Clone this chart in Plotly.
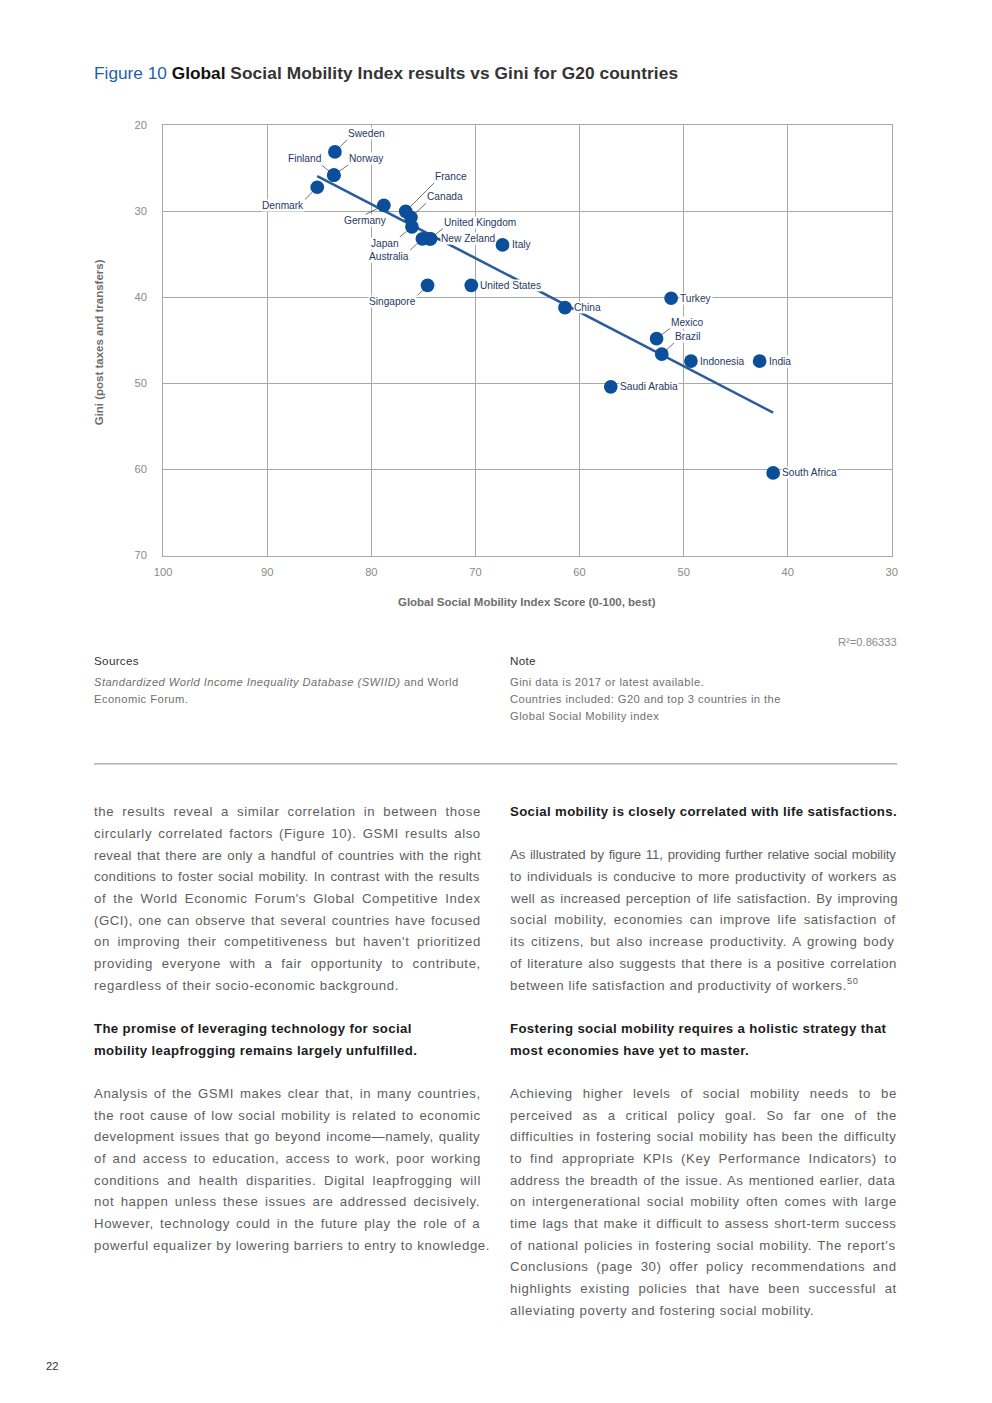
import numpy as np
import plotly.graph_objects as go

# page is 992x1403; the default HTML body has an 8px margin, so the figure is
# 16px smaller and every page coordinate is shifted by that margin.
PAGE_W, PAGE_H = 992, 1403
OFF = 8
W, H = PAGE_W - 2 * OFF, PAGE_H - 2 * OFF
FONT = "Liberation Sans, Arial, Helvetica, sans-serif"
# calibration of the photographed page (observed affine mapping)
AX_, BX_ = 9.3, 0.9843
AY_, BY_ = 4.7, 0.992
S = 1 / BX_

# ---------------- chart data ----------------
countries = ["Sweden", "Finland", "Norway", "Denmark", "Germany", "France", "Canada",
             "United Kingdom", "Japan", "Australia", "New Zeland", "Italy", "Singapore",
             "United States", "China", "Turkey", "Mexico", "Brazil", "Indonesia", "India",
             "Saudi Arabia", "South Africa"]
gsmi_score = [83.5, 83.6, 83.6, 85.2, 78.8, 76.7, 76.2,
              74.4, 76.1, 75.1, 74.3, 67.4, 74.6,
              70.4, 61.4, 51.2, 52.6, 52.1, 49.3, 42.7,
              57.0, 41.4]
gini_index = [23.1, 25.8, 25.8, 27.2, 29.3, 30.0, 30.7,
              33.2, 31.8, 33.2, 33.2, 33.9, 38.6,
              38.6, 41.2, 40.1, 44.8, 46.6, 47.4, 47.4,
              50.4, 60.4]
x_ticks = [100, 90, 80, 70, 60, 50, 40, 30]
y_ticks = [20, 30, 40, 50, 60, 70]
r2_label = "R\u00b2=0.86333"

# linear trend through the data
slope, intercept = np.polyfit(gsmi_score, gini_index, 1)
trend_x = np.array([max(gsmi_score), min(gsmi_score)])
trend_y = slope * trend_x + intercept

# ---------------- geometry (target page pixels) ----------------
PL, PR, PT, PB = 163.3, 891.7, 124.0, 554.5


def px(x):
    return ((x - AX_) / BX_ - OFF) / W


def py(y):
    return 1 - ((y - AY_) / BY_ - OFF) / H


def fs(v):
    return round(v * S, 2)


fig = go.Figure()
fig.add_trace(go.Scatter(x=trend_x, y=trend_y, mode="lines",
                         line=dict(color="#2b5c9c", width=2.6),
                         hoverinfo="skip", showlegend=False))
fig.add_trace(go.Scatter(x=gsmi_score, y=gini_index, mode="markers",
                         marker=dict(size=fs(13.5), color="#0b4f9b", line=dict(width=0)),
                         text=countries, hoverinfo="text", showlegend=False))

annotations = []

# label placement style: (ax, ay, xanchor, yanchor) for labels with leader lines
leader = {
    "Sweden": (12, -12, "left", "bottom"),
    "Finland": (-12, -10, "right", "bottom"),
    "Norway": (14, -10, "left", "bottom"),
    "Denmark": (-12, 12, "right", "top"),
    "Germany": (-18, 9, "center", "top"),
    "France": (28, -28, "left", "bottom"),
    "Canada": (15, -14, "left", "bottom"),
    "United Kingdom": (13, -10, "left", "bottom"),
    "Japan": (-12, 10, "right", "top"),
    "Australia": (-12, 11, "right", "top"),
    "New Zeland": (9, 0, "left", "middle"),
    "Singapore": (-10, 10, "right", "top"),
    "Mexico": (13, -10, "left", "bottom"),
    "Brazil": (12, -11, "left", "bottom"),
}
LABEL_FONT = dict(family=FONT, size=fs(10), color="#1f3864")
for name, gx, gy in zip(countries, gsmi_score, gini_index):
    if name in leader:
        ax, ay, xa, ya = leader[name]
        annotations.append(dict(x=gx, y=gy, xref="x", yref="y", text=name,
                                showarrow=True, ax=ax * S, ay=ay * S, xanchor=xa, yanchor=ya,
                                arrowhead=0, arrowwidth=0.7, arrowcolor="#333333",
                                standoff=7, font=LABEL_FONT, bgcolor="white", borderpad=0))
    else:
        annotations.append(dict(x=gx, y=gy, xref="x", yref="y", text=name,
                                showarrow=False, xanchor="left", yanchor="middle",
                                xshift=8 * S, font=LABEL_FONT, bgcolor="white", borderpad=0))

PAD_SHIFT = {"left": -2, "right": 2, "center": 0}


def ann(x, y, text, size, color, xanchor="left", yanchor="middle", **kw):
    annotations.append(dict(xref="paper", yref="paper", x=px(x), y=py(y), text=text,
                            showarrow=False, xanchor=xanchor, yanchor=yanchor,
                            xshift=PAD_SHIFT[xanchor],
                            font=dict(family=FONT, size=fs(size), color=color), **kw))


# title
ann(94, 72,
    "<span style='color:#1f5ea8'>Figure 10</span> <b><span style='color:#111111'>Global</span></b>"
    " <b><span style='letter-spacing:0.1px'>Social Mobility Index results vs Gini for G20 countries</span></b>",
    17, "#333333")

# axis titles
ann((PL + PR) / 2, 601, "<b>Global Social Mobility Index Score (0-100, best)</b>", 11.3, "#6e6e6e",
    xanchor="center")
ann(100, (PT + PB) / 2 + 2, "<b>Gini (post taxes and transfers)</b>", 11.3, "#6e6e6e",
    xanchor="center", textangle=-90)

# R2
ann(897, 641, r2_label, 11, "#8a8a8a", xanchor="right")

# sources / note
ann(94, 660, "<span style='letter-spacing:0.3px'>Sources</span>", 11.5, "#333333")
ann(510, 660, "<span style='letter-spacing:0.3px'>Note</span>", 11.5, "#333333")
SRC = "<span style='letter-spacing:0.45px'>%s</span>"
ann(94, 681, SRC % "<i>Standardized World Income Inequality Database (SWIID)</i> and World", 11, "#6f6f6f")
ann(94, 698, SRC % "Economic Forum.", 11, "#6f6f6f")
ann(510, 681, SRC % "Gini data is 2017 or latest available.", 11, "#6f6f6f")
ann(510, 698, SRC % "Countries included: G20 and top 3 countries in the", 11, "#6f6f6f")
ann(510, 715, SRC % "Global Social Mobility index", 11, "#6f6f6f")

# page number
ann(46, 1366, "22", 11, "#333333")

# ---------------- body text ----------------
AW = {' ': 278, '!': 278, '"': 355, "'": 191, '(': 333, ')': 333, ',': 278, '-': 333,
      '.': 278, '/': 278, ':': 278, ';': 278, '?': 556, '\u2014': 1000, '\u2019': 222}
for c in "0123456789":
    AW[c] = 556
AW.update(dict(A=667, B=667, C=722, D=722, E=667, F=611, G=778, H=722, I=278, J=500, K=667,
               L=556, M=833, N=722, O=778, P=667, Q=778, R=722, S=667, T=611, U=722, V=667,
               W=944, X=667, Y=667, Z=611))
AW.update(dict(a=556, b=556, c=500, d=556, e=556, f=278, g=556, h=556, i=222, j=222, k=500,
               l=222, m=833, n=556, o=556, p=556, q=556, r=333, s=500, t=278, u=556, v=500,
               w=722, x=500, y=500, z=500))

BODY_FS = fs(13)
BODY_LS = 0.6
COL_W = 387
BODY_COLOR = "#5e5e5e"
HEAD_COLOR = "#1c1c1c"
STEP = 21.68
MIN_WS = 1.2


def glyph_width(s):
    return sum(AW.get(c, 556) for c in s) * BODY_FS / 1000


def body_ann(x, y, text):
    annotations.append(dict(xref="paper", yref="paper", x=px(x), y=py(y), text=text,
                            showarrow=False, xanchor="left", yanchor="middle", xshift=-2,
                            font=dict(family=FONT, size=BODY_FS, color=BODY_COLOR)))


def paragraph(x0, y0, lines):
    for k, line in enumerate(lines):
        y = y0 + k * STEP
        last = (k == len(lines) - 1)
        ws, ls = 0.0, BODY_LS
        if not last:
            n = line.count(" ")
            g = glyph_width(line)
            ws = (COL_W - g - ls * len(line)) / n
            if ws < MIN_WS:
                ws = MIN_WS
                ls = (COL_W - g - ws * n) / len(line)
        txt = line.replace("^50", "<sup>50</sup>")
        body_ann(x0, y, "<span style='letter-spacing:%.2fpx;word-spacing:%.2fpx'>%s</span>"
                 % (ls, ws, txt))


def heading(x0, y0, lines):
    for k, line in enumerate(lines):
        ann(x0, y0 + k * STEP,
            "<b><span style='letter-spacing:0.36px'>%s</span></b>" % line,
            13, HEAD_COLOR)


LX, RX = 94, 510

paragraph(LX, 811, [
    "the results reveal a similar correlation in between those",
    "circularly correlated factors (Figure 10). GSMI results also",
    "reveal that there are only a handful of countries with the right",
    "conditions to foster social mobility. In contrast with the results",
    "of the World Economic Forum's Global Competitive Index",
    "(GCI), one can observe that several countries have focused",
    "on improving their competitiveness but haven't prioritized",
    "providing everyone with a fair opportunity to contribute,",
    "regardless of their socio-economic background.",
])
heading(LX, 1028, [
    "The promise of leveraging technology for social",
    "mobility leapfrogging remains largely unfulfilled.",
])
paragraph(LX, 1093, [
    "Analysis of the GSMI makes clear that, in many countries,",
    "the root cause of low social mobility is related to economic",
    "development issues that go beyond income\u2014namely, quality",
    "of and access to education, access to work, poor working",
    "conditions and health disparities. Digital leapfrogging will",
    "not happen unless these issues are addressed decisively.",
    "However, technology could in the future play the role of a",
    "powerful equalizer by lowering barriers to entry to knowledge.",
])

heading(RX, 811, ["Social mobility is closely correlated with life satisfactions."])
paragraph(RX, 854, [
    "As illustrated by figure 11, providing further relative social mobility",
    "to individuals is conducive to more productivity of workers as",
    "well as increased perception of life satisfaction. By improving",
    "social mobility, economies can improve life satisfaction of",
    "its citizens, but also increase productivity. A growing body",
    "of literature also suggests that there is a positive correlation",
    "between life satisfaction and productivity of workers.^50",
])
heading(RX, 1028, [
    "Fostering social mobility requires a holistic strategy that",
    "most economies have yet to master.",
])
paragraph(RX, 1093, [
    "Achieving higher levels of social mobility needs to be",
    "perceived as a critical policy goal. So far one of the",
    "difficulties in fostering social mobility has been the difficulty",
    "to find appropriate KPIs (Key Performance Indicators) to",
    "address the breadth of the issue. As mentioned earlier, data",
    "on intergenerational social mobility often comes with large",
    "time lags that make it difficult to assess short-term success",
    "of national policies in fostering social mobility. The report's",
    "Conclusions (page 30) offer policy recommendations and",
    "highlights existing policies that have been successful at",
    "alleviating poverty and fostering social mobility.",
])

shapes = [dict(type="line", xref="paper", yref="paper", x0=px(94), x1=px(897),
               y0=py(763), y1=py(763), line=dict(color="#8c8c8c", width=1))]

GRID = "#a8a8a8"
fig.update_layout(
    width=W, height=H, margin=dict(l=0, r=0, t=0, b=0),
    paper_bgcolor="white", plot_bgcolor="white",
    font=dict(family=FONT),
    showlegend=False, hovermode="closest",
    xaxis=dict(domain=[px(PL), px(PR)], range=[100, 30], tickvals=x_ticks,
               ticktext=[str(v) for v in x_ticks],
               showgrid=True, gridcolor=GRID, gridwidth=1, zeroline=False,
               showline=True, mirror=True, linecolor=GRID, linewidth=1, ticks="",
               tickfont=dict(size=fs(11), color="#8a8a8a"), ticklabelstandoff=6),
    yaxis=dict(domain=[py(PB), py(PT)], range=[70, 20], tickvals=y_ticks,
               ticktext=[str(v) for v in y_ticks],
               showgrid=True, gridcolor=GRID, gridwidth=1, zeroline=False,
               showline=True, mirror=True, linecolor=GRID, linewidth=1, ticks="",
               tickfont=dict(size=fs(11), color="#8a8a8a"), ticklabelstandoff=13),
    annotations=annotations, shapes=shapes,
)

fig.write_html("out.html", config={"displayModeBar": False})
